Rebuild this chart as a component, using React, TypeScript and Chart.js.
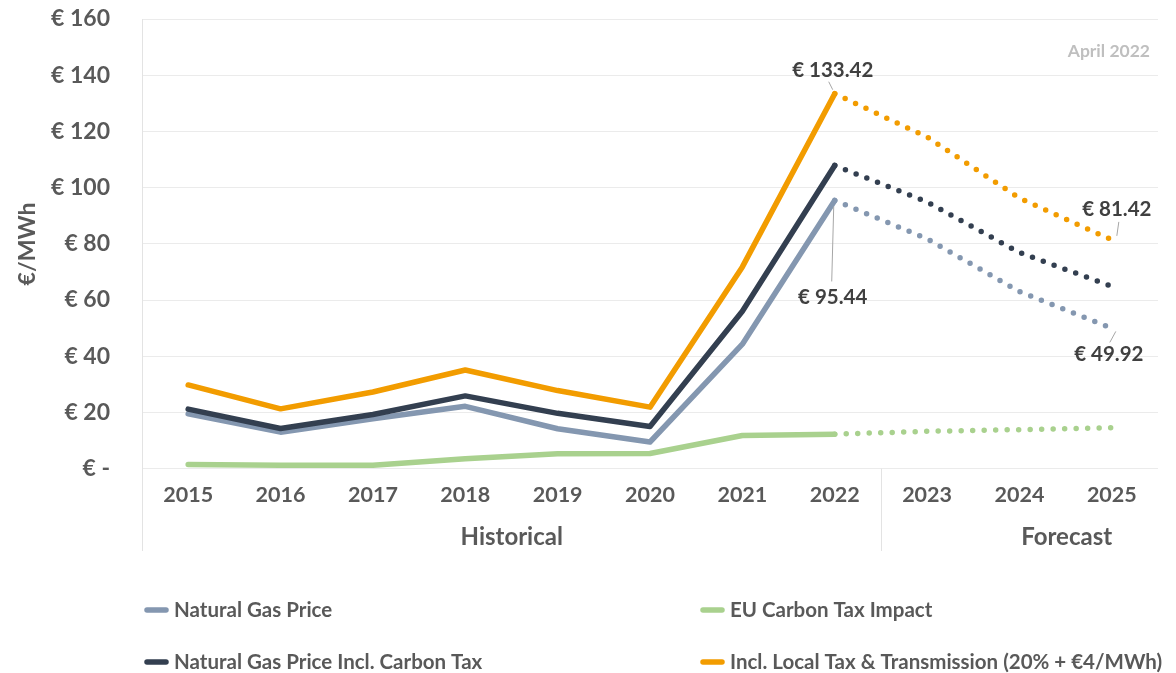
import React, { useEffect, useRef } from 'react';
import { Chart, registerables } from 'chart.js';

Chart.register(...registerables);

const years = ['2015', '2016', '2017', '2018', '2019', '2020', '2021', '2022', '2023', '2024', '2025'];
const naturalGasPrice = [19.5, 13.0, 17.8, 22.2, 14.2, 9.5, 44.3, 95.44, 81.8, 63.0, 49.92];
const euCarbonTax = [1.5, 1.2, 1.2, 3.5, 5.3, 5.4, 11.8, 12.3, 13.3, 13.9, 14.6];
const gasInclCarbon = [21.2, 14.3, 19.3, 25.9, 19.7, 15.0, 56.0, 107.9, 94.9, 76.9, 64.9];
const inclLocalTax = [29.8, 21.3, 27.3, 35.1, 27.8, 21.9, 71.8, 133.42, 118.0, 96.3, 81.42];
const yTickValues = [0, 20, 40, 60, 80, 100, 120, 140, 160];
const lastHistoricalIndex = 7;
const groupLabels = ['Historical', 'Forecast'];
const stampText = 'April 2022';
const axisTitle = '€/MWh';

const COLORS = {
  blue: '#8497B0',
  dark: '#333F50',
  green: '#A9D18E',
  orange: '#F29C00',
  text: '#595959',
  label: '#404040',
  grid: '#ebebeb',
};

const FONT = 'Lato, "Open Sans", sans-serif';

const legendItems = [
  { label: 'Natural Gas Price', color: COLORS.blue, col: 0, row: 0 },
  { label: 'EU Carbon Tax Impact', color: COLORS.green, col: 1, row: 0 },
  { label: 'Natural Gas Price Incl. Carbon Tax', color: COLORS.dark, col: 0, row: 1 },
  { label: 'Incl. Local Tax & Transmission (20% + €4/MWh)', color: COLORS.orange, col: 1, row: 1 },
];

const fmtEuro = (v: number) => '€ ' + v.toFixed(2);

const dottedSegment = {
  borderDash: (ctx: any) => (ctx.p0DataIndex >= lastHistoricalIndex ? [0, 11.5] : undefined),
};

const makeDataset = (label: string, data: number[], color: string) => ({
  label,
  data,
  borderColor: color,
  backgroundColor: color,
  borderWidth: 5.5,
  borderCapStyle: 'round' as const,
  borderJoinStyle: 'round' as const,
  pointRadius: 0,
  pointHoverRadius: 0,
  tension: 0,
  fill: false,
  segment: dottedSegment,
});

const extrasPlugin = {
  id: 'extras',
  afterDraw(chart: any) {
    const { ctx, chartArea, scales } = chart;
    const x = scales.x;
    ctx.save();

    // Left border line and divider
    ctx.strokeStyle = '#e3e3e3';
    ctx.lineWidth = 1;
    const bottomLine = 551;
    ctx.beginPath();
    ctx.moveTo(chartArea.left + 0.5, chartArea.top);
    ctx.lineTo(chartArea.left + 0.5, bottomLine);
    const divX = Math.round((x.getPixelForValue(lastHistoricalIndex) + x.getPixelForValue(lastHistoricalIndex + 1)) / 2) + 0.5;
    ctx.moveTo(divX, chartArea.bottom);
    ctx.lineTo(divX, bottomLine);
    ctx.stroke();

    // Group labels
    ctx.fillStyle = COLORS.text;
    ctx.font = `bold 24px ${FONT}`;
    ctx.textAlign = 'center';
    ctx.textBaseline = 'middle';
    ctx.fillText(groupLabels[0], (chartArea.left + divX) / 2, 537);
    ctx.fillText(groupLabels[1], (x.getPixelForValue(9) + x.getPixelForValue(10)) / 2 + 1, 537);

    // Axis title
    ctx.save();
    ctx.translate(28, 244);
    ctx.rotate(-Math.PI / 2);
    ctx.font = `bold 23px ${FONT}`;
    ctx.fillText(axisTitle, 0, 0);
    ctx.restore();

    // Stamp
    ctx.fillStyle = '#BFBFBF';
    ctx.font = `bold 17.5px ${FONT}`;
    ctx.textAlign = 'right';
    ctx.fillText(stampText, 1150, 51);

    // Data labels
    const orangeMeta = chart.getDatasetMeta(0);
    const blueMeta = chart.getDatasetMeta(3);
    const labels = [
      { pt: orangeMeta.data[lastHistoricalIndex], value: inclLocalTax[lastHistoricalIndex], dx: -2, dy: -23, l1: [-2, -4], l2: [-6, -12] },
      { pt: blueMeta.data[lastHistoricalIndex], value: naturalGasPrice[lastHistoricalIndex], dx: -2, dy: 97, l1: [-1, 6], l2: [-3, 81] },
      { pt: orangeMeta.data[10], value: inclLocalTax[10], dx: 5, dy: -30, l1: [5, -4], l2: [7, -18] },
      { pt: blueMeta.data[10], value: naturalGasPrice[10], dx: -3, dy: 26, l1: [4, 3], l2: [-2, 14] },
    ];
    ctx.font = `bold 20.5px ${FONT}`;
    ctx.textAlign = 'center';
    ctx.textBaseline = 'middle';
    labels.forEach((lb) => {
      const px = lb.pt.x;
      const py = lb.pt.y;
      ctx.strokeStyle = '#a6a6a6';
      ctx.lineWidth = 1;
      ctx.beginPath();
      ctx.moveTo(px + lb.l1[0], py + lb.l1[1]);
      ctx.lineTo(px + lb.l2[0], py + lb.l2[1]);
      ctx.stroke();
      ctx.fillStyle = COLORS.label;
      ctx.fillText(fmtEuro(lb.value), px + lb.dx, py + lb.dy);
    });

    // Legend
    const colX = [145, 701];
    const rowY = [610, 662];
    ctx.font = `bold 20.5px ${FONT}`;
    ctx.textAlign = 'left';
    ctx.textBaseline = 'middle';
    legendItems.forEach((it) => {
      const lx = colX[it.col];
      const ly = rowY[it.row];
      ctx.strokeStyle = it.color;
      ctx.lineWidth = 5.5;
      ctx.lineCap = 'round';
      ctx.beginPath();
      ctx.moveTo(lx + 2, ly);
      ctx.lineTo(lx + 21, ly);
      ctx.stroke();
      ctx.fillStyle = COLORS.text;
      ctx.fillText(it.label, lx + 29, ly);
    });

    ctx.restore();
  },
};

export default function App() {
  const canvasRef = useRef<HTMLCanvasElement | null>(null);

  useEffect(() => {
    document.body.style.margin = '0';
    const canvas = canvasRef.current;
    if (!canvas) return;
    const chart = new Chart(canvas, {
      type: 'line',
      data: {
        labels: years,
        datasets: [
          makeDataset('Incl. Local Tax & Transmission (20% + €4/MWh)', inclLocalTax, COLORS.orange),
          makeDataset('Natural Gas Price Incl. Carbon Tax', gasInclCarbon, COLORS.dark),
          makeDataset('EU Carbon Tax Impact', euCarbonTax, COLORS.green),
          makeDataset('Natural Gas Price', naturalGasPrice, COLORS.blue),
        ],
      },
      options: {
        responsive: false,
        devicePixelRatio: 1,
        animation: false,
        layout: { padding: { top: 19, right: 18, left: 0, bottom: 0 } },
        plugins: {
          legend: { display: false },
          tooltip: { enabled: false },
        },
        scales: {
          x: {
            offset: true,
            grid: { display: false, drawTicks: false },
            border: { display: false },
            ticks: {
              color: COLORS.text,
              font: { family: FONT, size: 21.5, weight: 'bold' },
              padding: 13.5,
              maxRotation: 0,
              autoSkip: false,
            },
            afterFit: (scale: any) => {
              scale.height = 204.3;
              scale.paddingLeft = 0;
              scale.paddingRight = 0;
            },
          },
          y: {
            min: 0,
            max: 160,
            afterBuildTicks: (scale: any) => {
              scale.ticks = yTickValues.map((v) => ({ value: v }));
            },
            grid: { color: COLORS.grid, drawTicks: false, lineWidth: 1 },
            border: { display: false },
            ticks: {
              color: COLORS.text,
              font: { family: FONT, size: 23, weight: 'bold' },
              padding: 32,
              callback: (v: any) => (Number(v) === 0 ? '€ -' : '€ ' + v),
            },
            afterFit: (scale: any) => {
              scale.width = 142;
              scale.paddingTop = 0;
              scale.paddingBottom = 0;
            },
          },
        },
      },
      plugins: [extrasPlugin],
    });
    return () => chart.destroy();
  }, []);

  return (
    <div style={{ width: 1176, height: 673, position: 'relative', background: '#fff' }}>
      <canvas ref={canvasRef} width={1176} height={673} style={{ display: 'block' }} />
    </div>
  );
}
